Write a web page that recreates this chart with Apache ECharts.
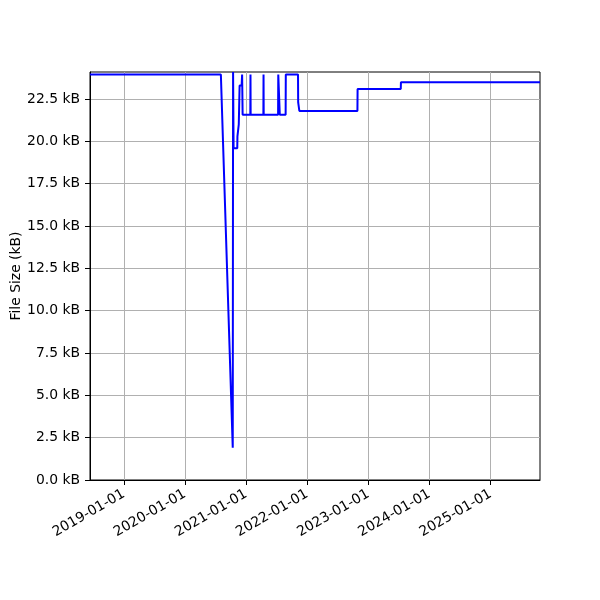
<!DOCTYPE html>
<html>
<head>
<meta charset="utf-8">
<script src="https://cdn.jsdelivr.net/npm/echarts@6/dist/echarts.min.js"></script>
<style>html,body{margin:0;padding:0;background:#fff}#c{width:600px;height:600px}</style>
</head>
<body>
<div id="c"></div>
<script>
const dates = ['2018-06-13','2020-08-03','2020-10-13','2020-10-15','2020-10-18','2020-11-09','2020-11-10','2020-11-17','2020-11-18','2020-11-22','2020-11-23','2020-12-05','2020-12-08','2020-12-11','2021-01-26','2021-01-27','2021-01-28','2021-04-14','2021-04-15','2021-04-16','2021-07-11','2021-07-12','2021-07-20','2021-07-21','2021-08-25','2021-08-26','2021-11-07','2021-11-08','2021-11-14','2021-11-15','2022-10-28','2022-10-29','2023-07-14','2023-07-15','2025-10-23'];
const sizes = [23.95,23.95,1.9,24.1,19.6,19.6,20.3,20.3,21.0,21.0,23.3,23.3,23.95,21.58,21.58,23.95,21.58,21.58,23.95,21.58,21.58,23.95,23.95,21.58,21.58,23.95,23.95,22.3,22.3,21.8,21.8,23.1,23.1,23.5,23.5];
const xTicks = ['2019-01-01','2020-01-01','2021-01-01','2022-01-01','2023-01-01','2024-01-01','2025-01-01'];
const yTicks = [0,2.5,5,7.5,10,12.5,15,17.5,20,22.5];
const yMax = 24.1;

const ts = s => { const [y,m,d] = s.split('-').map(Number); return Date.UTC(y, m-1, d); };
const pad = n => (n < 10 ? '0' : '') + n;
const fmtDate = v => { const d = new Date(v); return d.getUTCFullYear() + '-' + pad(d.getUTCMonth()+1) + '-' + pad(d.getUTCDate()); };

const chart = echarts.init(document.getElementById('c'));
const font = 'DejaVu Sans';
chart.setOption({
  animation: false,
  grid: {left: 90, right: 60, top: 72, bottom: 120, outerBoundsMode: 'none', containLabel: false, show: true, borderColor: '#000', borderWidth: 1, backgroundColor: 'transparent'},
  xAxis: {
    type: 'value',
    min: ts(dates[0]), max: ts(dates[dates.length-1]),
    axisLine: {show: true, lineStyle: {color: '#000', width: 1}},
    axisTick: {show: true, length: 5, lineStyle: {color: '#000'}, customValues: xTicks.map(ts)},
    axisLabel: {customValues: xTicks.map(ts), formatter: v => fmtDate(v), rotate: 30, margin: 13, color: '#000', fontFamily: font, fontSize: 13.9},
    splitLine: {show: true, lineStyle: {color: '#b0b0b0', width: 1}}
  },
  yAxis: {
    type: 'value', min: 0, max: yMax,
    name: 'File Size (kB)', nameLocation: 'middle', nameGap: 67, nameMoveOverlap: false,
    nameTextStyle: {color: '#000', fontFamily: font, fontSize: 13.9},
    axisLine: {show: true, lineStyle: {color: '#000', width: 1}},
    axisTick: {show: true, length: 5, lineStyle: {color: '#000'}, customValues: yTicks},
    axisLabel: {customValues: yTicks, formatter: v => v.toFixed(1) + ' kB', margin: 10, color: '#000', fontFamily: font, fontSize: 13.9},
    splitLine: {show: true, lineStyle: {color: '#b0b0b0', width: 1}}
  },
  series: [{
    type: 'line',
    data: dates.map((d, i) => [ts(d), sizes[i]]),
    showSymbol: false,
    lineStyle: {color: '#0000ff', width: 2},
    itemStyle: {color: '#0000ff'},
    clip: true
  }]
});
</script>
</body>
</html>
